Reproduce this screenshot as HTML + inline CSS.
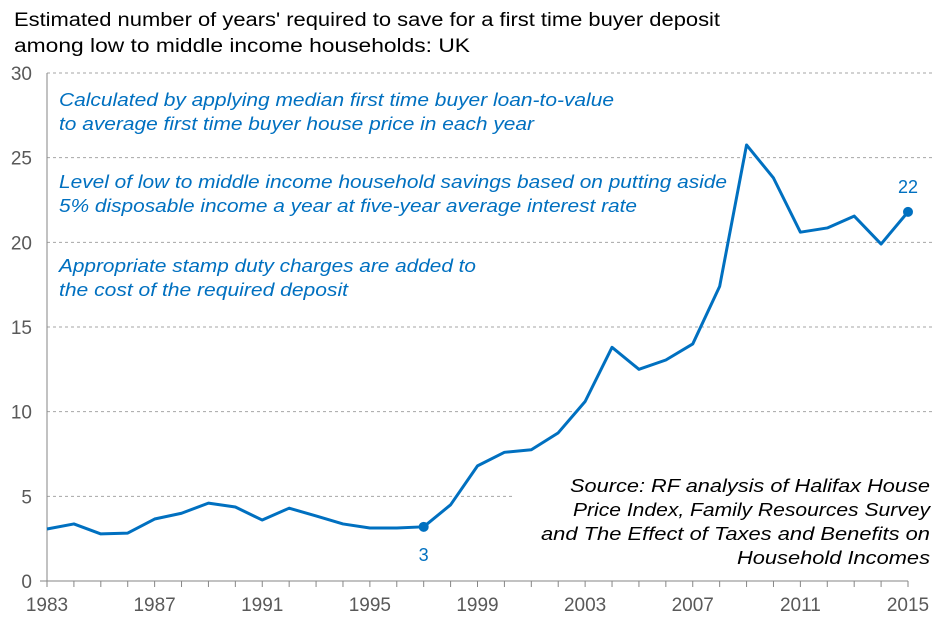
<!DOCTYPE html>
<html><head><meta charset="utf-8"><style>
body{margin:0;background:#fff;font-family:"Liberation Sans",Arial,sans-serif}
</style></head><body>
<svg width="946" height="620" xmlns="http://www.w3.org/2000/svg" font-family="Liberation Sans, Arial, sans-serif">
<text x="14" y="26" font-size="19" fill="#000" textLength="706" lengthAdjust="spacingAndGlyphs">Estimated number  of years' required to save for a first time buyer deposit</text>
<text x="14" y="52" font-size="19" fill="#000" textLength="456" lengthAdjust="spacingAndGlyphs">among low to middle income households:  UK</text>
<g id="grid"></g>
<g id="yt"></g>
<g id="xt"></g>
<g font-style="italic" font-size="18" fill="#0070c0" lengthAdjust="spacingAndGlyphs">
<text x="59" y="106" textLength="555" lengthAdjust="spacingAndGlyphs">Calculated by applying median first time buyer loan-to-value</text>
<text x="59" y="130" textLength="475" lengthAdjust="spacingAndGlyphs">to average first time buyer house price in each year</text>
<text x="59" y="188" textLength="668" lengthAdjust="spacingAndGlyphs">Level of low to middle income household savings based on putting aside</text>
<text x="59" y="212" textLength="578" lengthAdjust="spacingAndGlyphs">5% disposable income a year at five-year average interest rate</text>
<text x="59" y="272" textLength="417" lengthAdjust="spacingAndGlyphs">Appropriate stamp duty charges are added to</text>
<text x="59" y="296" textLength="289" lengthAdjust="spacingAndGlyphs">the cost of the required deposit</text>
</g>
<g font-style="italic" font-size="18" fill="#000" text-anchor="end">
<text x="930" y="492" textLength="360" lengthAdjust="spacingAndGlyphs">Source: RF analysis of Halifax House</text>
<text x="930" y="516" textLength="357" lengthAdjust="spacingAndGlyphs">Price Index, Family Resources Survey</text>
<text x="930" y="540" textLength="389" lengthAdjust="spacingAndGlyphs">and The Effect of Taxes and Benefits on</text>
<text x="930" y="564" textLength="193" lengthAdjust="spacingAndGlyphs">Household Incomes</text>
</g>
<g id="series"></g>
</svg>
<script>
const years=[1983,1984,1985,1986,1987,1988,1989,1990,1991,1992,1993,1994,1995,1996,1997,1998,1999,2000,2001,2002,2003,2004,2005,2006,2007,2008,2009,2010,2011,2012,2013,2014,2015];
const values=[3.07,3.37,2.78,2.83,3.66,4.0,4.6,4.37,3.6,4.3,3.84,3.37,3.13,3.13,3.2,4.5,6.8,7.6,7.75,8.75,10.6,13.8,12.5,13.05,14.0,17.4,25.75,23.8,20.6,20.85,21.55,19.9,21.8];
const yTicks=[0,5,10,15,20,25,30];
const xLabels=[1983,1987,1991,1995,1999,2003,2007,2011,2015];
const labelled=[[1997,"3",28],[2015,"22",-25]];
const NS="http://www.w3.org/2000/svg";
const X=y=>47+(y-1983)*(908-47)/32;
const Y=v=>581-v*(581-73)/30;
function mk(t,a,p){const e=document.createElementNS(NS,t);for(const k in a)e.setAttribute(k,a[k]);p.appendChild(e);return e;}
const grid=document.getElementById('grid'),yt=document.getElementById('yt'),xt=document.getElementById('xt'),s=document.getElementById('series');
yTicks.forEach(v=>{
 if(v>0){const l=mk('line',{x1:47,x2:v===5?515:935,y1:Y(v),y2:Y(v),stroke:'#a6a6a6','stroke-dasharray':'3,3','stroke-width':1},grid);
 
 }
 const t=mk('text',{x:32,y:Y(v)+7,'font-size':19,fill:'#595959','text-anchor':'end'},yt);t.textContent=v;
 
 
});
const ax=mk('line',{x1:47,x2:47,y1:73,y2:581,stroke:'#868686'},xt);


mk('line',{x1:40,x2:47,y1:581,y2:581,stroke:'#868686'},xt);
const bx=mk('line',{x1:47,x2:908,y1:581,y2:581,stroke:'#868686'},xt);


years.forEach(y=>{mk('line',{x1:X(y),x2:X(y),y1:581,y2:587,stroke:'#868686'},xt);});
xLabels.forEach(y=>{const t=mk('text',{x:X(y),y:611,'font-size':19,fill:'#595959','text-anchor':'middle'},xt);t.textContent=y;
 
 });
const p=mk('polyline',{points:years.map((y,i)=>X(y)+','+Y(values[i])).join(' '),fill:'none',stroke:'#0070c0','stroke-width':3,'stroke-linejoin':'round'},s);


labelled.forEach(([yr,txt,dy])=>{const i=years.indexOf(yr);
 const c=mk('circle',{cx:X(yr),cy:Y(values[i]),r:5,fill:'#0070c0'},s);
 
 
 const t=mk('text',{x:X(yr),y:Y(values[i])+dy+6,'font-size':18,fill:'#0070c0','text-anchor':'middle'},s);t.textContent=txt;
 
 });
</script>
</body></html>
